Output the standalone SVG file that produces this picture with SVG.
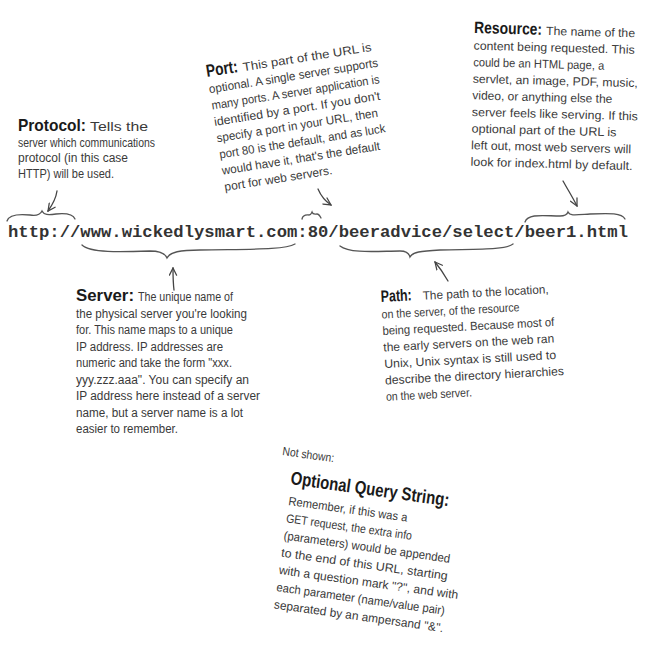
<svg xmlns="http://www.w3.org/2000/svg" width="652" height="650" viewBox="0 0 652 650">
<style>
.b{font-family:"Liberation Sans",Arial,sans-serif;font-size:12px;fill:#3a3a3a}
.t{font-family:"Liberation Sans",Arial,sans-serif;font-size:16.5px;font-weight:bold;fill:#1a1a1a}
.url{font-family:"Liberation Mono","Courier New",monospace;font-size:17px;font-weight:bold;fill:#333}
.br{fill:none;stroke:#555;stroke-width:1.3;stroke-linecap:round}
.ar{fill:none;stroke:#444;stroke-width:1.3;stroke-linecap:round}
</style>
<defs>
<marker id="ah" viewBox="0 0 10 10" refX="9" refY="5" markerWidth="9" markerHeight="9" markerUnits="userSpaceOnUse" orient="auto">
<path d="M1,1 L9,5 L1,9" fill="none" stroke="#444" stroke-width="1.4" stroke-linecap="round"/>
</marker>
</defs>
<rect width="652" height="650" fill="#fff"/>

<g id="url">
<text class="url" x="8" y="237" textLength="620" lengthAdjust="spacingAndGlyphs">http://www.wickedlysmart.com:80/beeradvice/select/beer1.html</text>
</g>

<g id="protocol">
<text class="t" x="18" y="131" textLength="68" lengthAdjust="spacingAndGlyphs">Protocol:</text>
<text class="b" x="90" y="131" textLength="58" lengthAdjust="spacingAndGlyphs">Tells the</text>
<text class="b" x="18" y="147" textLength="137" lengthAdjust="spacingAndGlyphs">server which communications</text>
<text class="b" x="18" y="162" textLength="110" lengthAdjust="spacingAndGlyphs">protocol (in this case</text>
<text class="b" x="18" y="178" textLength="96" lengthAdjust="spacingAndGlyphs">HTTP) will be used.</text>
</g>

<g id="port" transform="translate(207,77) rotate(-9)">
<text class="t" x="0" y="0" style="font-size:17.5px" textLength="32" lengthAdjust="spacingAndGlyphs">Port:</text>
<text class="b" x="37" y="0" textLength="130" lengthAdjust="spacingAndGlyphs">This part of the URL is</text>
<text class="b" x="0" y="16.5" textLength="171" lengthAdjust="spacingAndGlyphs">optional.  A single server supports</text>
<text class="b" x="0" y="33" textLength="170" lengthAdjust="spacingAndGlyphs">many ports. A server application is</text>
<text class="b" x="0" y="49.5" textLength="168" lengthAdjust="spacingAndGlyphs">identified by a port.  If you don't</text>
<text class="b" x="0" y="66" textLength="163" lengthAdjust="spacingAndGlyphs">specify a port in your URL, then</text>
<text class="b" x="0" y="82.5" textLength="168" lengthAdjust="spacingAndGlyphs">port 80 is the default, and as luck</text>
<text class="b" x="0" y="99" textLength="160" lengthAdjust="spacingAndGlyphs">would have it, that's the default</text>
<text class="b" x="0" y="115.5" textLength="109" lengthAdjust="spacingAndGlyphs">port for web servers.</text>
</g>

<g id="resource" transform="translate(474,33) rotate(1.5)">
<text class="t" x="0" y="0" textLength="68" lengthAdjust="spacingAndGlyphs">Resource:</text>
<text class="b" x="72" y="0" textLength="89" lengthAdjust="spacingAndGlyphs">The name of the</text>
<text class="b" x="0" y="16.6" textLength="161" lengthAdjust="spacingAndGlyphs">content being requested.  This</text>
<text class="b" x="0" y="33.2" textLength="131" lengthAdjust="spacingAndGlyphs">could be an HTML page, a</text>
<text class="b" x="0" y="49.8" textLength="165" lengthAdjust="spacingAndGlyphs">servlet, an image, PDF, music,</text>
<text class="b" x="0" y="66.4" textLength="140" lengthAdjust="spacingAndGlyphs">video, or anything else the</text>
<text class="b" x="0" y="83" textLength="166" lengthAdjust="spacingAndGlyphs">server feels like serving. If this</text>
<text class="b" x="0" y="99.6" textLength="145" lengthAdjust="spacingAndGlyphs">optional part of the URL is</text>
<text class="b" x="0" y="116.2" textLength="160" lengthAdjust="spacingAndGlyphs">left out, most web servers will</text>
<text class="b" x="0" y="132.8" textLength="162" lengthAdjust="spacingAndGlyphs">look for index.html by default.</text>
</g>

<g id="server">
<text class="t" x="76" y="301" textLength="58" lengthAdjust="spacingAndGlyphs">Server:</text>
<text class="b" x="138" y="301" textLength="95" lengthAdjust="spacingAndGlyphs">The unique name of</text>
<text class="b" x="76" y="317.5" textLength="171" lengthAdjust="spacingAndGlyphs">the physical server you're looking</text>
<text class="b" x="76" y="334" textLength="157" lengthAdjust="spacingAndGlyphs">for.  This name maps to a unique</text>
<text class="b" x="76" y="350.5" textLength="147" lengthAdjust="spacingAndGlyphs">IP address.  IP addresses are</text>
<text class="b" x="76" y="367" textLength="156" lengthAdjust="spacingAndGlyphs">numeric and take the form "xxx.</text>
<text class="b" x="76" y="383.5" textLength="173" lengthAdjust="spacingAndGlyphs">yyy.zzz.aaa".  You can specify an</text>
<text class="b" x="76" y="400" textLength="184" lengthAdjust="spacingAndGlyphs">IP address here instead of a server</text>
<text class="b" x="76" y="416.5" textLength="167" lengthAdjust="spacingAndGlyphs">name, but a server name is a lot</text>
<text class="b" x="76" y="433" textLength="102" lengthAdjust="spacingAndGlyphs">easier to remember.</text>
</g>

<g id="path" transform="translate(381,302) rotate(-3)">
<text class="t" x="0" y="0" textLength="31" lengthAdjust="spacingAndGlyphs">Path:</text>
<text class="b" x="42" y="0" textLength="126" lengthAdjust="spacingAndGlyphs">The path to the location,</text>
<text class="b" x="0" y="16.5" textLength="138" lengthAdjust="spacingAndGlyphs">on the server, of the resource</text>
<text class="b" x="0" y="33" textLength="172" lengthAdjust="spacingAndGlyphs">being requested.  Because most of</text>
<text class="b" x="0" y="49.5" textLength="171" lengthAdjust="spacingAndGlyphs">the early servers on the web ran</text>
<text class="b" x="0" y="66" textLength="172" lengthAdjust="spacingAndGlyphs">Unix, Unix syntax is still used to</text>
<text class="b" x="0" y="82.5" textLength="179" lengthAdjust="spacingAndGlyphs">describe the directory hierarchies</text>
<text class="b" x="0" y="99" textLength="86" lengthAdjust="spacingAndGlyphs">on the web server.</text>
</g>

<g id="query">
<text class="b" transform="translate(282,455) rotate(8)" x="0" y="0" textLength="52" lengthAdjust="spacingAndGlyphs">Not shown:</text>
<g transform="translate(290,484) rotate(8)">
<text class="t" x="0" y="0" style="font-size:18.5px" textLength="160" lengthAdjust="spacingAndGlyphs">Optional Query String:</text>
<text class="b" x="1" y="21" textLength="120" lengthAdjust="spacingAndGlyphs">Remember, if this was a</text>
<text class="b" x="1" y="38.4" textLength="127" lengthAdjust="spacingAndGlyphs">GET request, the extra info</text>
<text class="b" x="1" y="55.8" textLength="168" lengthAdjust="spacingAndGlyphs">(parameters) would be appended</text>
<text class="b" x="1" y="73.2" textLength="168" lengthAdjust="spacingAndGlyphs">to the end of this URL, starting</text>
<text class="b" x="1" y="90.6" textLength="181" lengthAdjust="spacingAndGlyphs">with a question mark "?", and with</text>
<text class="b" x="1" y="108" textLength="170" lengthAdjust="spacingAndGlyphs">each parameter (name/value pair)</text>
<text class="b" x="1" y="125.4" textLength="171" lengthAdjust="spacingAndGlyphs">separated by an ampersand "&amp;".</text>
</g>
</g>

<g id="connectors">
<path class="br" d="M7,221 C9,214 20,214 30,215 C36,216 40,215 42,211 C44,215 48,215 56,214 C66,213 73,214 75,219"/>
<path class="br" d="M302,219 C303,214 307,215 309,215 C311,215 311,214 312,212 C313,215 315,214 317,214 C319,214 320,216 321,218"/>
<path class="br" d="M82,245 C90,253 120,252 150,251 C160,251 165,253 167,258 C170,252 180,250 200,250 C250,249 285,250 295,244"/>
<path class="br" d="M340,246 C350,254 380,251 400,251 C406,251 409,253 410,257 C413,252 420,251 440,250 C480,249 505,250 513,244"/>
<path class="br" d="M525,222 C528,213 545,216 560,216 C565,216 567,215 568,212 C570,216 575,215 590,214 C610,213 622,213 625,219"/>
<path class="ar" marker-end="url(#ah)" d="M57,191 C56,198 53,204 48,211"/>
<path class="ar" marker-end="url(#ah)" d="M318,189 C321,196 325,201 331,205"/>
<path class="ar" marker-end="url(#ah)" d="M563,181 C568,190 573,198 577,206"/>
<path class="ar" marker-end="url(#ah)" d="M174,290 C173,282 173,276 173,268"/>
<path class="ar" marker-end="url(#ah)" d="M448,281 C444,274 440,268 435,262"/>
</g>
</svg>
